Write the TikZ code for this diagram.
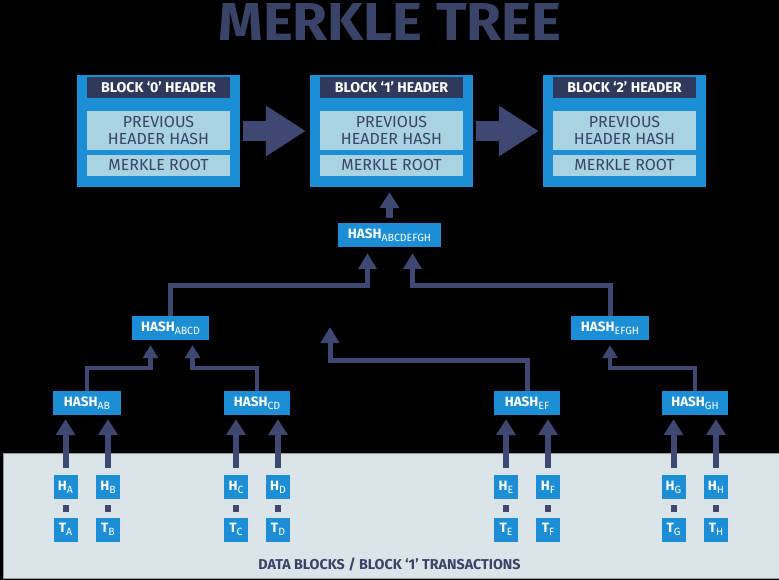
\documentclass[tikz,border=0pt]{standalone}
\usepackage{fontspec}
\usepackage{graphicx}
\setmainfont{Fira Sans}
\usetikzlibrary{arrows.meta,calc}
\definecolor{bblue}{HTML}{1C8ED5}
\definecolor{slate}{HTML}{3A4468}
\definecolor{darkbar}{HTML}{2E395C}
\definecolor{lightbox}{HTML}{A9D3E0}
\definecolor{panelc}{HTML}{DBE4E9}
\definecolor{panelb}{HTML}{8F999F}
\definecolor{arrowc}{HTML}{3E4872}
\newcommand{\hsub}[2]{\textbf{#1}\raisebox{-3pt}{\fontsize{10.5}{10.5}\selectfont #2}}
\begin{document}
\begin{tikzpicture}[x=1pt,y=-1pt,
  blockbox/.style={fill=bblue,minimum width=163pt,minimum height=112pt,inner sep=0pt},
  hdrbar/.style={fill=darkbar,text=white,font=\bfseries\fontsize{14.2}{14.2}\selectfont,minimum width=143pt,minimum height=21pt,inner sep=0pt,text height=9.5pt,text depth=0pt},
  prevbox/.style={fill=lightbox,text=slate,font=\fontsize{16}{16.5}\selectfont,minimum width=143pt,minimum height=39pt,inner sep=0pt,align=center},
  rootbox/.style={fill=lightbox,text=slate,font=\fontsize{16}{16}\selectfont,minimum width=143pt,minimum height=21pt,inner sep=0pt,text height=10.5pt,text depth=0pt},
  hashbox/.style={fill=bblue,text=white,font=\fontsize{13.5}{13.5}\selectfont,minimum height=24pt,inner sep=0pt,text height=9pt,text depth=3pt},
  leaf/.style={fill=bblue,text=white,font=\fontsize{13.5}{13.5}\selectfont,minimum width=24pt,minimum height=24pt,inner sep=0pt,text height=9pt,text depth=3pt},
  bigarrow/.style={draw=arrowc,line width=20pt,-{Triangle[width=48pt,length=40pt]}},
  toparrow/.style={draw=arrowc,line width=7pt,-{Triangle[width=19pt,length=16pt]}},
  treeA/.style={draw=arrowc,line width=5pt,line join=miter,-{Triangle[width=18pt,length=16pt]}},
  treeB/.style={draw=arrowc,line width=4.5pt,line join=miter,-{Triangle[width=15pt,length=13pt]}},
  leafarrow/.style={draw=arrowc,line width=6pt,-{Triangle[width=19pt,length=16pt]}},
  hlink/.style={draw=arrowc,line width=6pt,shorten <=6pt,shorten >=5pt}
]
\fill[black] (0,0) rectangle (779,580);
\useasboundingbox (0,0) rectangle (779,580);
% title
\node[text=slate,inner sep=0pt] (title) at (390,22.5) {\resizebox{343pt}{37pt}{\bfseries MERKLE TREE}};
% bottom panel
\draw[fill=panelc,draw=panelb,line width=1pt] (3,453) rectangle (781,578);
\node[text=slate,inner sep=0pt,font=\bfseries\fontsize{14.3}{14.3}\selectfont] (datalbl) at (389.5,564) {DATA BLOCKS / BLOCK ‘1’ TRANSACTIONS};
% blocks
\foreach \i/\x in {0/158.5,1/391.5,2/624.5}{
  \node[blockbox] (b\i) at (\x,131) {};
  \node[hdrbar] (hd\i) at (\x,87.5) {BLOCK ‘\i’ HEADER};
  \node[prevbox] (pv\i) at (\x,130.5) {PREVIOUS\\HEADER HASH};
  \node[rootbox] (mr\i) at (\x,165.5) {MERKLE ROOT};
}
\draw[bigarrow] ([xshift=3pt]b0.east) -- ([xshift=-4pt]b1.west);
\draw[bigarrow] ([xshift=3pt]b1.east) -- ([xshift=-4pt]b2.west);
% hash tree
\node[hashbox,minimum width=103pt] (root) at (389.5,235) {\hsub{HASH}{ABCDEFGH}};
\node[hashbox,minimum width=77pt] (habcd) at (170.5,328) {\hsub{HASH}{ABCD}};
\node[hashbox,minimum width=78pt] (hefgh) at (610,328) {\hsub{HASH}{EFGH}};
\node[hashbox,minimum width=68pt] (hab) at (87,403) {\hsub{HASH}{AB}};
\node[hashbox,minimum width=66pt] (hcd) at (257,403) {\hsub{HASH}{CD}};
\node[hashbox,minimum width=66pt] (hef) at (527,403) {\hsub{HASH}{EF}};
\node[hashbox,minimum width=66pt] (hgh) at (695,403) {\hsub{HASH}{GH}};
\coordinate (freetip) at (330,327);
\draw[toparrow] ([yshift=5pt]root.north) -- ($(root.north |- b1.south)+(0,5)$);
\draw[treeA] (habcd.north) -- ++(0,-30) -| ($(root.south)+(-22,6)$);
\draw[treeA] (hefgh.north) -- ++(0,-30) -| ($(root.south)+(23,6)$);
\draw[treeB] (hab.north) -- ++(0,-23) -| ($(habcd.south)+(-20,5)$);
\draw[treeB] (hcd.north) -- ++(0,-23) -| ($(habcd.south)+(22,5)$);
\draw[treeB] (hgh.north) -- ++(0,-23) -| ($(hefgh.south)+(0,5)$);
\draw[treeA] (hef.north) -- ++(0,-30) -| (freetip);
% leaves
\foreach \n/\x/\p in {A/65.5/hab,B/108/hab,C/236/hcd,D/278/hcd,E/506/hef,F/548/hef,G/673.5/hgh,H/716/hgh}{
  \node[leaf] (h\n) at (\x,487) {\hsub{H}{\n}};
  \node[leaf] (t\n) at (\x,529.5) {\hsub{T}{\n}};
  \draw[hlink] (h\n) -- (t\n);
  \draw[leafarrow] ([yshift=7pt]h\n.north) -- ($(h\n.north |- \p.south)+(0,4)$);
}
\end{tikzpicture}
\end{document}
